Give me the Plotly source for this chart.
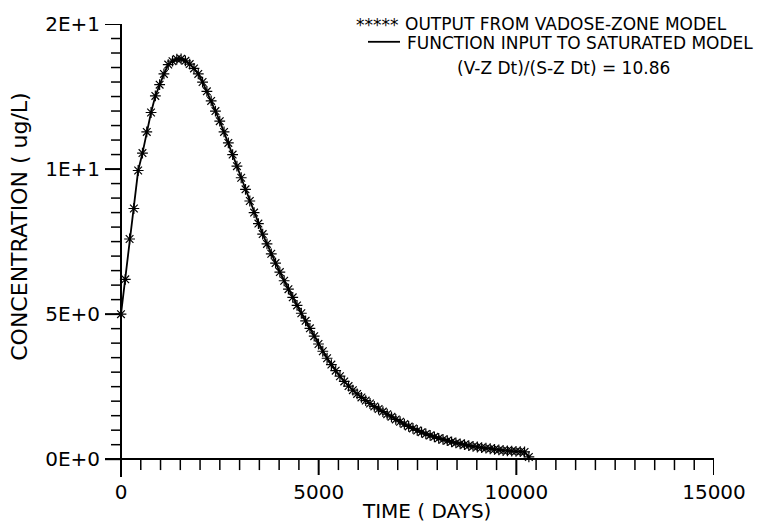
import plotly.graph_objects as go

# ---- data ----
# vadose-zone output sampled every V-Z time step (about 108.6 days)
time_step_days = 108.6
concentration = [
    5.0, 6.2, 7.59, 8.64, 9.95, 10.55, 11.28, 11.95, 12.52, 12.91,
    13.28, 13.6, 13.72, 13.79, 13.8, 13.73, 13.62, 13.47, 13.28, 13.0,
    12.68, 12.35, 12.0, 11.65, 11.28, 10.9, 10.5, 10.1, 9.7, 9.3,
    8.9, 8.5, 8.12, 7.76, 7.42, 7.08, 6.76, 6.45, 6.15, 5.86,
    5.58, 5.3, 5.03, 4.77, 4.51, 4.24, 3.97, 3.72, 3.48, 3.26,
    3.05, 2.86, 2.68, 2.52, 2.38, 2.25, 2.13, 2.02, 1.92, 1.82,
    1.73, 1.64, 1.55, 1.46, 1.37, 1.29, 1.21, 1.13, 1.06, 0.99,
    0.93, 0.87, 0.82, 0.77, 0.72, 0.68, 0.64, 0.6, 0.56, 0.53,
    0.5, 0.47, 0.44, 0.42, 0.4, 0.38, 0.36, 0.34, 0.32, 0.3,
    0.29, 0.28, 0.27, 0.26, 0.25, 0.08,
]
x_tick_vals = [0, 5000, 10000, 15000]
x_tick_text = ["0", "5000", "10000", "15000"]
x_minor_ticks = list(range(0, 15001, 500))
y_tick_vals = [0, 5, 10, 15]
y_tick_text = ["0E+0", "5E+0", "1E+1", "2E+1"]
y_minor_ticks = [i / 2 for i in range(0, 31)]

legend_stars = "OUTPUT FROM VADOSE-ZONE MODEL"
legend_line = "FUNCTION INPUT TO SATURATED MODEL"
ratio_text = "(V-Z Dt)/(S-Z Dt) = 10.86"

# ---- layout geometry (pixels) ----
W, H = 771, 524
X0_PX, X15K_PX = 121, 714          # pixel of t=0 and t=15000
Y0_PX, Y15_PX = 459, 19            # pixel of c=0 and c=15
MAJOR_LEN, MINOR_LEN_X, MINOR_LEN_Y = 16, 11, 10
# plot area extended by the tick length so that the outward ticks lie inside it
L = X0_PX - MAJOR_LEN
R = W - X15K_PX
T = Y15_PX
B = H - (Y0_PX + 18)
PW, PH = W - L - R, H - T - B
DAY_PX = (X15K_PX - X0_PX) / 15000.0
CONC_PX = (Y0_PX - Y15_PX) / 15.0
x_range = [-(X0_PX - L) / DAY_PX, 15000]
y_range = [-((H - B) - Y0_PX) / CONC_PX, 15]


def px(x):
    return (x - L) / PW


def py(y):
    return (H - B - y) / PH


FONT = "DejaVu Sans"

fig = go.Figure()
fig.add_trace(go.Scatter(
    x0=0, dx=time_step_days, y=concentration, mode="lines",
    line=dict(color="black", width=1.8), showlegend=False,
    name=legend_line,
))
fig.add_trace(go.Scatter(
    x0=0, dx=time_step_days, y=concentration, mode="markers",
    marker=dict(symbol="asterisk-open", size=9, color="black",
                line=dict(color="black", width=1.2)),
    showlegend=False, name=legend_stars,
))

axis_common = dict(
    showline=False, ticks="", showgrid=False,
    zeroline=True, zerolinecolor="black", zerolinewidth=2,
    tickfont=dict(family=FONT, size=20, color="black"),
)
fig.update_xaxes(range=x_range, tickmode="array", tickvals=x_tick_vals,
                 ticktext=x_tick_text, ticklabelstandoff=1, **axis_common)
fig.update_yaxes(range=y_range, tickmode="array", tickvals=y_tick_vals,
                 ticktext=y_tick_text, ticklabelstandoff=4, **axis_common)

# tick marks hanging outward from the two zero lines (axes)
shapes = []
for v in x_minor_ticks:
    major = v in x_tick_vals
    ln = MAJOR_LEN if major else MINOR_LEN_X
    shapes.append(dict(type="line", xref="x", yref="y", x0=v, x1=v,
                       y0=0, y1=-ln / CONC_PX, layer="above",
                       line=dict(color="black", width=2 if major else 1.5)))
for v in y_minor_ticks:
    major = v in y_tick_vals
    ln = MAJOR_LEN if major else MINOR_LEN_Y
    shapes.append(dict(type="line", xref="x", yref="y", y0=v, y1=v,
                       x0=0, x1=-ln / DAY_PX, layer="above",
                       line=dict(color="black", width=2 if major else 1.5)))
# legend line sample
shapes.append(dict(type="line", xref="paper", yref="paper",
                   x0=px(368), x1=px(400), y0=py(37), y1=py(37),
                   line=dict(color="black", width=1.8)))

ann = []
ann.append(dict(text="TIME ( DAYS)", x=px(426), y=py(511), xref="paper", yref="paper",
                xanchor="center", yanchor="middle", showarrow=False,
                font=dict(family=FONT, size=20, color="black")))
ann.append(dict(text="CONCENTRATION ( ug/L)", x=px(20), y=py(224), xref="paper", yref="paper",
                xanchor="center", yanchor="middle", showarrow=False, textangle=-90,
                font=dict(family=FONT, size=22, color="black")))
ann.append(dict(text="*****", x=px(401), y=py(20), xref="paper", yref="paper",
                xanchor="right", yanchor="middle", showarrow=False,
                font=dict(family=FONT, size=17, color="black")))
ann.append(dict(text=legend_stars, x=px(403), y=py(19), xref="paper", yref="paper",
                xanchor="left", yanchor="middle", showarrow=False,
                font=dict(family=FONT, size=17, color="black")))
ann.append(dict(text=legend_line, x=px(405), y=py(38), xref="paper", yref="paper",
                xanchor="left", yanchor="middle", showarrow=False,
                font=dict(family=FONT, size=17, color="black")))
ann.append(dict(text=ratio_text, x=px(455), y=py(63), xref="paper", yref="paper",
                xanchor="left", yanchor="middle", showarrow=False,
                font=dict(family=FONT, size=17, color="black")))

fig.update_layout(
    width=W, height=H, autosize=False,
    margin=dict(l=L, r=R, t=T, b=B, pad=0),
    paper_bgcolor="white", plot_bgcolor="white",
    annotations=ann, shapes=shapes, showlegend=False,
)

fig.write_html("out.html", config={"displayModeBar": False})
